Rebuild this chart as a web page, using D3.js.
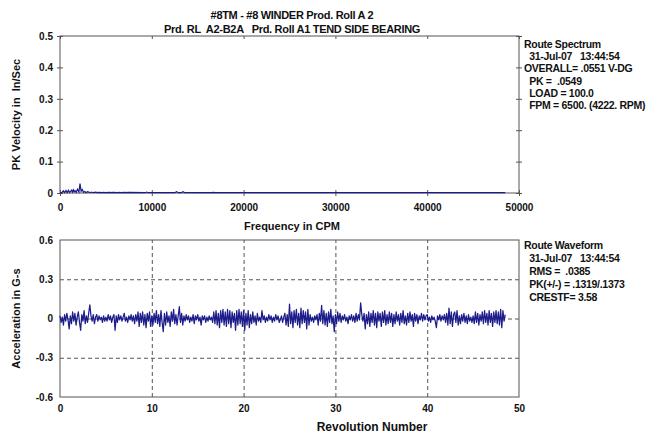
<!DOCTYPE html>
<html>
<head>
<meta charset="utf-8">
<script src="https://cdn.jsdelivr.net/npm/d3@7"></script>
<style>
  body { margin: 0; background: #fff; }
  svg text { font-family: "Liberation Sans", Arial, sans-serif; font-weight: bold; fill: #111; white-space: pre; }
  .tick text { font-size: 10px; }
  .tick line { stroke: #555; }
  .domain { display: none; }
</style>
</head>
<body>
<div id="viz"></div>
<script>
// chart text
var titleLines = ["#8TM - #8 WINDER Prod. Roll A 2", "Prd. RL  A2-B2A   Prd. Roll A1 TEND SIDE BEARING"];
var specInfo = ["Route Spectrum", "  31-Jul-07   13:44:54", "OVERALL= .0551 V-DG", "  PK =  .0549", "  LOAD = 100.0", "  FPM = 6500. (4222. RPM)"];
var waveInfo = ["Route Waveform", "  31-Jul-07   13:44:54", "  RMS =  .0385", "  PK(+/-) = .1319/.1373", "  CRESTF= 3.58"];

// tick values
var specXTicks = [0, 10000, 20000, 30000, 40000, 50000];
var specYTicks = [0, 0.1, 0.2, 0.3, 0.4, 0.5];
var waveXTicks = [0, 10, 20, 30, 40, 50];
var waveYTicks = [-0.6, -0.3, 0, 0.3, 0.6];

// spectrum (CPM, in/sec)
var specCpm = [0,200,360,500,650,780,910,1050,1270,1360,1450,1540,1630,1760,1900,2060,2180,2300,2420,2560,
  2700,2840,2980,3300,3450,3600,3900,4050,4200,4600,4750,4900,5400,5550,5700,6300,6450,6600,7100,7250,
  7400,9300,9450,9600,12500,12700,12900,13200,13400,13600,16500,16700,16900,48500];
var specAmp = [.001,.001,.007,.001,.008,.001,.009,.002,.009,.003,.01,.004,.008,.002,.012,.003,.030,.006,.011,.002,
  .005,.001,.004,.001,.003,.001,.0025,.001,.002,.001,.002,.001,.002,.001,.002,.001,.002,.001,.002,.001,
  .002,.001,.003,.001,.001,.004,.001,.001,.004,.001,.001,.002,.001,.001];

// waveform, 8 samples per revolution (G-s)
var samplesPerRev = 8;
var waveG = [
  .02,-.03,.01,-.05,.03,-.02,.04,-.01,  -.08,.02,-.04,.05,-.02,.04,-.05,.01,
  .05,-.03,-.09,.03,-.02,.06,-.04,.02,  -.03,.04,.105,.02,-.02,.03,-.04,.01,
  .03,-.02,.02,-.01,.01,-.03,.02,-.02,  .01,-.02,.03,-.01,.02,-.03,.01,.03,
  -.09,.02,-.03,.03,-.01,.02,-.02,.01,  .04,-.02,.01,-.03,.02,-.01,.03,-.02,
  .02,-.04,.03,-.02,.05,-.06,.04,-.03,  .05,-.05,.03,-.07,.04,-.02,.05,-.06,
  .02,-.05,.04,-.03,.06,-.04,.03,-.06,  .06,-.03,-.1,.04,-.05,.05,-.03,.02,
  -.06,.05,-.02,.07,-.04,.03,-.05,.02,  .09,-.03,.04,-.05,.02,-.02,.03,-.01,
  .02,-.03,.01,-.02,.03,-.04,.02,-.01,  .03,-.02,.01,-.05,.02,-.01,.02,-.03,
  .01,-.02,.02,-.01,.01,-.03,.05,-.04,  .06,-.05,.04,-.07,.06,-.03,.07,-.05,
  .05,-.06,.07,-.04,.06,-.07,.05,-.03,  .04,-.09,.06,-.05,.07,-.04,.05,-.06,
  .06,-.09,.04,-.05,.06,-.07,.03,-.04,  .05,-.03,.02,-.05,.04,-.02,.01,-.03,
  .06,-.01,.02,-.03,.01,-.02,.03,-.01,  .02,-.03,.01,-.02,.03,-.01,.02,-.03,
  -.01,.02,-.03,.01,.04,-.05,.03,-.06,  .11,-.04,.05,-.07,.06,-.03,.07,-.05,
  .04,-.07,.08,-.04,.06,-.03,.05,-.08,  .07,-.05,.03,-.02,.01,-.03,.02,-.01,
  .03,-.05,.04,-.02,.10,-.04,.06,-.05,  .04,-.06,.05,-.03,.07,-.04,.02,-.10,
  .03,-.04,.05,-.02,.04,-.03,.02,-.01,  .03,-.02,.01,-.04,.02,-.01,.03,-.02,
  .02,-.03,.04,-.02,.03,-.01,.12,.03,  -.02,.04,-.08,.03,-.04,.05,-.06,.04,
  -.03,.06,-.05,.04,-.07,.05,-.02,.04,  -.06,.05,-.03,.06,-.05,.03,-.04,.05,
  -.03,.04,-.06,.03,-.04,.05,-.02,.03,  -.05,.04,-.03,.06,-.04,.02,-.05,.04,
  -.03,.05,-.02,.03,-.06,.04,-.02,.03,  -.04,.02,-.01,.04,-.02,.03,-.01,.02,
  .03,-.02,.01,-.03,.02,-.01,.01,-.02,  -.07,.02,-.01,.03,-.02,.02,-.01,.03,
  -.03,.04,-.05,.08,-.04,.05,-.06,.03,  .05,-.03,.06,-.05,.02,-.04,.03,-.02,
  .04,-.03,.02,-.04,.03,-.02,.01,-.03,  .02,-.04,.05,-.03,.04,-.05,.03,-.02,
  .05,-.04,.06,-.03,.04,-.05,.06,-.03,  .04,-.06,.05,-.03,.06,-.04,.05,-.05,
  .07,-.07,.06,-.02,.03
];

var W = 658, H = 434;
var lineColor = "#1c1c8a";
var plotL = 60, plotR = 519;
var top1 = 36, bot1 = 193;
var top2 = 240, bot2 = 397;

var svg = d3.select("#viz").append("svg")
    .attr("width", W)
    .attr("height", H);

// titles
svg.selectAll(".title").data(titleLines).enter()
    .append("text")
    .attr("class", "title")
    .attr("x", 292)
    .attr("y", function(d, i) { return 19 + i * 13.5; })
    .attr("text-anchor", "middle")
    .style("font-size", "11px")
    .style("letter-spacing", "-0.3px")
    .text(function(d) { return d; });

// ---------- spectrum ----------
var x1 = d3.scaleLinear().domain([0, 50000]).range([plotL, plotR]);
var y1 = d3.scaleLinear().domain([0, 0.5]).range([bot1, top1]);

svg.append("rect")
    .attr("x", plotL).attr("y", top1)
    .attr("width", plotR - plotL).attr("height", bot1 - top1)
    .attr("fill", "none").attr("stroke", "#555").attr("stroke-width", 1);

var fmt1 = function(d) { return d === 0 ? "0" : d.toFixed(1); };

svg.append("g")
    .attr("transform", "translate(" + plotL + ",0)")
    .call(d3.axisLeft(y1).tickValues(specYTicks).tickSize(3).tickPadding(4).tickFormat(fmt1));
svg.append("g")
    .attr("transform", "translate(" + plotL + ",0)")
    .call(d3.axisRight(y1).tickValues(specYTicks).tickSize(3).tickFormat(""));
svg.append("g")
    .attr("transform", "translate(" + plotR + ",0)")
    .call(d3.axisLeft(y1).tickValues(specYTicks).tickSize(3).tickFormat(""));
svg.append("g")
    .attr("transform", "translate(" + plotR + ",0)")
    .call(d3.axisRight(y1).tickValues(specYTicks).tickSize(3).tickFormat(""));
svg.append("g")
    .attr("transform", "translate(0," + bot1 + ")")
    .call(d3.axisBottom(x1).tickValues(specXTicks).tickSize(3).tickPadding(8).tickFormat(d3.format("d")));
svg.append("g")
    .attr("transform", "translate(0," + bot1 + ")")
    .call(d3.axisTop(x1).tickValues(specXTicks).tickSize(3).tickFormat(""));
svg.append("g")
    .attr("transform", "translate(0," + top1 + ")")
    .call(d3.axisBottom(x1).tickValues(specXTicks).tickSize(3).tickFormat(""));

var spec = specCpm.map(function(c, i) { return { cpm: c, amp: specAmp[i] }; });
svg.append("path")
    .datum(spec)
    .attr("fill", "none")
    .attr("stroke", lineColor)
    .attr("stroke-width", 1.2)
    .attr("d", d3.line()
        .x(function(d) { return x1(d.cpm); })
        .y(function(d) { return y1(d.amp); }));

svg.append("text")
    .attr("x", 292).attr("y", 230)
    .attr("text-anchor", "middle")
    .style("font-size", "11px")
    .text("Frequency in CPM");

svg.append("text")
    .attr("transform", "translate(20," + ((top1 + bot1) / 2) + ") rotate(-90)")
    .attr("text-anchor", "middle")
    .style("font-size", "11px")
    .text("PK Velocity in  In/Sec");

svg.selectAll(".specinfo").data(specInfo).enter()
    .append("text")
    .attr("class", "specinfo")
    .attr("x", 524)
    .attr("y", function(d, i) { return 48 + i * 12.2; })
    .style("font-size", "10.5px")
    .style("letter-spacing", "-0.3px")
    .text(function(d) { return d; });

// ---------- waveform ----------
var x2 = d3.scaleLinear().domain([0, 50]).range([plotL, plotR]);
var y2 = d3.scaleLinear().domain([-0.6, 0.6]).range([bot2, top2]);

var gridV = svg.append("g")
    .attr("transform", "translate(0," + bot2 + ")")
    .call(d3.axisBottom(x2).tickValues(waveXTicks).tickSize(-(bot2 - top2)).tickPadding(8).tickFormat(d3.format("d")));
gridV.selectAll(".tick line")
    .attr("stroke-dasharray", "4,3")
    .style("display", function(d) { return (d === 0 || d === 50) ? "none" : null; });

var gridH = svg.append("g")
    .attr("transform", "translate(" + plotL + ",0)")
    .call(d3.axisLeft(y2).tickValues(waveYTicks).tickSize(-(plotR - plotL)).tickPadding(7)
        .tickFormat(function(d) { return d === 0 ? "0" : d.toFixed(1); }));
gridH.selectAll(".tick line")
    .attr("stroke-dasharray", "4,3")
    .style("display", function(d) { return Math.abs(d) === 0.6 ? "none" : null; });

svg.append("rect")
    .attr("x", plotL).attr("y", top2)
    .attr("width", plotR - plotL).attr("height", bot2 - top2)
    .attr("fill", "none").attr("stroke", "#555").attr("stroke-width", 1);

svg.append("path")
    .datum(waveG)
    .attr("fill", "none")
    .attr("stroke", lineColor)
    .attr("stroke-width", 1.25)
    .attr("stroke-linejoin", "round")
    .attr("d", d3.line()
        .x(function(d, i) { return x2(i / samplesPerRev); })
        .y(function(d) { return y2(d); }));

svg.append("text")
    .attr("x", 372).attr("y", 431)
    .attr("text-anchor", "middle")
    .style("font-size", "12px")
    .text("Revolution Number");

svg.append("text")
    .attr("transform", "translate(20," + ((top2 + bot2) / 2) + ") rotate(-90)")
    .attr("text-anchor", "middle")
    .style("font-size", "11px")
    .text("Acceleration in G-s");

svg.selectAll(".waveinfo").data(waveInfo).enter()
    .append("text")
    .attr("class", "waveinfo")
    .attr("x", 524)
    .attr("y", function(d, i) { return 249 + i * 13; })
    .style("font-size", "10.5px")
    .style("letter-spacing", "-0.3px")
    .text(function(d) { return d; });
</script>
</body>
</html>
